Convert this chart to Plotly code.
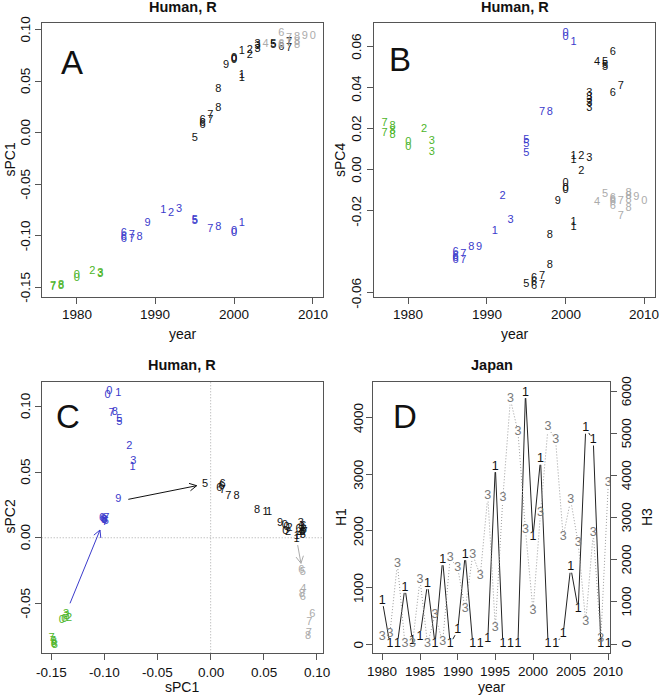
import math
import plotly.graph_objects as go

W, H = 659, 697
FONT = "Liberation Sans, Arial, sans-serif"

GREEN = "#4db52a"
BLUE = "#3b3bcc"
BLACK = "#111111"
GRAY = "#ababab"
DGRAY = "#7a7a7a"

# ---------------- data ----------------
# Panel A: sPC1 by year
A_green_years = [1977, 1977, 1978, 1978, 1980, 1980, 1982, 1983, 1983]
A_green_vals = [-0.150, -0.149, -0.1494, -0.148, -0.138, -0.141, -0.134, -0.137, -0.136]
A_blue_years = [1986, 1986, 1986, 1987, 1987, 1988, 1989, 1991, 1992, 1993, 1995, 1995, 1997, 1998, 2000, 2000, 2001]
A_blue_vals = [-0.098, -0.101, -0.103, -0.099, -0.103, -0.101, -0.088, -0.075, -0.078, -0.074, -0.085, -0.086, -0.094, -0.092, -0.096, -0.098, -0.088]
A_black_years = [1995, 1996, 1996, 1996, 1997, 1997, 1998, 1998, 1999, 2000, 2000, 2000, 2001, 2001, 2001,
                 2002, 2002, 2003, 2003, 2003, 2005, 2005, 2006, 2007, 2007]
A_black_vals = [-0.0055, 0.012, 0.009, 0.007, 0.017, 0.012, 0.024, 0.042, 0.066, 0.071, 0.072, 0.073, 0.056, 0.053, 0.0795,
                0.0805, 0.0757, 0.0864, 0.0845, 0.0815, 0.0865, 0.0855, 0.083, 0.082, 0.088]
A_gray_years = [2004, 2006, 2006, 2006, 2007, 2007, 2008, 2008, 2008, 2009, 2010]
A_gray_vals = [0.0865, 0.0968, 0.0865, 0.0850, 0.0920, 0.0870, 0.0925, 0.0880, 0.0850, 0.0940, 0.0940]

# Panel B: sPC4 by year
B_green_years = [1977, 1977, 1978, 1978, 1978, 1980, 1980, 1982, 1983, 1983]
B_green_vals = [0.0225, 0.0176, 0.021, 0.019, 0.017, 0.0136, 0.011, 0.0197, 0.014, 0.0087]
B_blue_years = [1986, 1986, 1986, 1986, 1987, 1987, 1988, 1989, 1991, 1992, 1993, 1995, 1995, 1995, 1997, 1998, 2000, 2000, 2001]
B_blue_vals = [-0.040, -0.042, -0.043, -0.044, -0.041, -0.044, -0.0378, -0.038, -0.030, -0.013, -0.0247,
               0.0143, 0.0125, 0.0082, 0.028, 0.028, 0.0665, 0.0645, 0.0624]
B_black_years = [1995, 1996, 1996, 1996, 1997, 1997, 1998, 1998, 1999, 2000, 2000, 2000, 2001, 2001, 2001, 2001,
                 2002, 2002, 2003, 2003, 2003, 2003, 2003, 2003, 2004, 2005, 2005, 2005, 2006, 2006, 2007]
B_black_vals = [-0.056, -0.053, -0.055, -0.057, -0.052, -0.0565, -0.0467, -0.0317, -0.0155, -0.0066, -0.009, -0.010,
                -0.0256, -0.028, 0.0065, 0.0045, 0.0065, -0.0005, 0.0057, 0.0374, 0.0355, 0.034, 0.0325, 0.030,
                0.0524, 0.0522, 0.051, 0.0499, 0.0573, 0.0372, 0.0405]
B_gray_years = [2004, 2005, 2006, 2006, 2006, 2006, 2007, 2007, 2008, 2008, 2008, 2008, 2009, 2010]
B_gray_vals = [-0.016, -0.012, -0.0137, -0.015, -0.016, -0.018, -0.0155, -0.0226, -0.0115, -0.013, -0.015, -0.019, -0.0133, -0.0153]

# Panel C: sPC2 vs sPC1 (label = last digit of year)
C_green_x = [-0.150, -0.149, -0.148, -0.147, -0.148, -0.1405, -0.138, -0.1335, -0.1365, -0.136]
C_green_y = [-0.077, -0.079, -0.080, -0.082, -0.081, -0.063, -0.0625, -0.0615, -0.058, -0.060]
C_green_years = [1977, 1977, 1978, 1978, 1978, 1980, 1980, 1982, 1983, 1983]
C_blue_x = [-0.1013, -0.1000, -0.0990, -0.1025, -0.0995, -0.0985, -0.1005, -0.0872, -0.0736, -0.0768, -0.0730,
            -0.0862, -0.0862, -0.0934, -0.0903, -0.0972, -0.0957, -0.0872]
C_blue_y = [0.0140, 0.0130, 0.0125, 0.0145, 0.0120, 0.0145, 0.0135, 0.0293, 0.0537, 0.0699, 0.0587,
            0.0903, 0.0877, 0.0949, 0.0957, 0.1089, 0.1114, 0.1101]
C_blue_years = [1986, 1986, 1986, 1986, 1987, 1987, 1988, 1989, 1991, 1992, 1993, 1995, 1995, 1997, 1998, 2000, 2000, 2001]
C_black_x = [-0.0053, 0.0113, 0.0104, 0.0082, 0.0113, 0.0167, 0.0245, 0.0437, 0.0519, 0.0550, 0.0654,
             0.0700, 0.0715, 0.0705, 0.0730, 0.0745, 0.0810, 0.0812, 0.0850, 0.0860, 0.0855, 0.0865,
             0.0870, 0.0880, 0.0875, 0.0885, 0.0840, 0.0830]
C_black_y = [0.0407, 0.0410, 0.0390, 0.0376, 0.0364, 0.0313, 0.0313, 0.0211, 0.0198, 0.0193, 0.0109,
             0.0095, 0.0080, 0.0050, 0.0040, 0.0070, -0.0010, 0.0010, 0.0110, 0.0080, 0.0060, 0.0040,
             0.0020, 0.0060, 0.0090, 0.0045, 0.0030, 0.0065]
C_black_years = [1995, 1996, 1996, 1996, 1997, 1997, 1998, 1998, 2001, 2001, 1999,
                 2000, 2000, 2000, 2002, 2002, 2001, 2001, 2003, 2003, 2003, 2003,
                 2005, 2005, 2006, 2007, 2004, 2006]
C_gray_x = [0.0855, 0.0870, 0.0875, 0.0860, 0.0870, 0.0960, 0.0930, 0.0925, 0.0920]
C_gray_y = [-0.0245, -0.0265, -0.0390, -0.0430, -0.0450, -0.0585, -0.0645, -0.0730, -0.0750]
C_gray_years = [2006, 2005, 2004, 2008, 2006, 2006, 2007, 2007, 2008]

ARROW_X0 = [-0.1327, -0.0777, 0.0821]
ARROW_Y0 = [-0.0500, 0.0293, -0.0056]
ARROW_X1 = [-0.1044, -0.0132, 0.0852]
ARROW_Y1 = [0.0059, 0.0397, -0.0195]
ARROW_COLORS = [BLUE, BLACK, GRAY]

# Panel D: Japan, H1 and H3 counts
D_years = list(range(1980, 2011))
D_H1 = [765, 0, 0, 1000, 50, 134, 1065, 0, 1489, 0, 241, 1578, 0, 0, 88, 3133, 0, 0, 0, 4440,
        1896, 3263, 0, 0, 171, 1355, 618, 3811, 3604, 0, 0]
D_H3 = [167, 250, 1912, 0, 0, 1531, 0, 698, 40, 2047, 1809, 833, 2126, 1626, 3518, 373, 3479, 5819,
        5049, 2711, 792, 3123, 5153, 4851, 2552, 3424, 2395, 530, 2647, 112, 3836]

# tick labels
YEAR_TICKS_AB = [1980, 1990, 2000, 2010]
A_YTICKS = [-0.15, -0.10, -0.05, 0.00, 0.05, 0.10]
B_YTICKS = [-0.06, -0.02, 0.00, 0.02, 0.04, 0.06]
C_XTICKS = [-0.15, -0.10, -0.05, 0.00, 0.05, 0.10]
C_YTICKS = [-0.05, 0.00, 0.05, 0.10]
D_XTICKS = [1980, 1985, 1990, 1995, 2000, 2005, 2010]
D_H1TICKS = [0, 1000, 2000, 3000, 4000]
D_H3TICKS = [0, 1000, 2000, 3000, 4000, 5000, 6000]

# ---------------- geometry ----------------
BOX = {
    "A": ((42.0, 323.0), (23.3, 296.5)),
    "B": ((374.3, 655.0), (23.3, 296.5)),
    "C": ((41.7, 322.7), (381.7, 653.3)),
    "D": ((373.3, 610.0), (381.7, 653.3)),
}
XR = {"A": [1975.59, 2011.31], "B": [1975.68, 2011.36], "C": [-0.1594, 0.1057], "D": [1978.8, 2010.22]}
YR = {"A": [-0.159, 0.1065], "B": [-0.0618, 0.0714], "C": [-0.0881, 0.119], "D": [-164, 4634], "D2": [-221, 6238]}


def xdom(p):
    (x0, x1), _ = BOX[p]
    return [x0 / W, x1 / W]


def ydom(p):
    _, (y0, y1) = BOX[p]
    return [1 - y1 / H, 1 - y0 / H]


def to_px(p, x, y, yk=None):
    (bx0, bx1), (by0, by1) = BOX[p]
    xr = XR[p]
    yr = YR[yk or p]
    return (bx0 + (x - xr[0]) / (xr[1] - xr[0]) * (bx1 - bx0),
            by1 - (y - yr[0]) / (yr[1] - yr[0]) * (by1 - by0))


def from_px(p, px, py, yk=None):
    (bx0, bx1), (by0, by1) = BOX[p]
    xr = XR[p]
    yr = YR[yk or p]
    return (xr[0] + (px - bx0) / (bx1 - bx0) * (xr[1] - xr[0]),
            yr[0] + (by1 - py) / (by1 - by0) * (yr[1] - yr[0]))


def fmt(v, d=2):
    s = f"{v:.{d}f}"
    if s.startswith("-") and float(s) == 0:
        s = s[1:]
    return s


fig = go.Figure()


def digits(xs, ys, years, color, xa, ya, size=11):
    fig.add_trace(go.Scatter(
        x=xs, y=ys, mode="text", text=[str(y % 10) for y in years],
        textposition="middle center",
        textfont=dict(family=FONT, size=size, color=color),
        xaxis=xa, yaxis=ya, hoverinfo="skip", showlegend=False))


# Panel A
for yrs, vals, col in [(A_green_years, A_green_vals, GREEN), (A_blue_years, A_blue_vals, BLUE),
                       (A_black_years, A_black_vals, BLACK), (A_gray_years, A_gray_vals, GRAY)]:
    digits(yrs, vals, yrs, col, "x", "y")

# Panel B
for yrs, vals, col in [(B_green_years, B_green_vals, GREEN), (B_blue_years, B_blue_vals, BLUE),
                       (B_black_years, B_black_vals, BLACK), (B_gray_years, B_gray_vals, GRAY)]:
    digits(yrs, vals, yrs, col, "x2", "y2")

# Panel C
for xs, ys, yrs, col in [(C_green_x, C_green_y, C_green_years, GREEN), (C_blue_x, C_blue_y, C_blue_years, BLUE),
                         (C_black_x, C_black_y, C_black_years, BLACK), (C_gray_x, C_gray_y, C_gray_years, GRAY)]:
    digits(xs, ys, yrs, col, "x3", "y3")

# arrows in C, open V heads like R's arrows()
HEAD_LEN = 8.0
HEAD_ANG = math.radians(28)
for x0, y0, x1, y1, col in zip(ARROW_X0, ARROW_Y0, ARROW_X1, ARROW_Y1, ARROW_COLORS):
    p0 = to_px("C", x0, y0)
    p1 = to_px("C", x1, y1)
    ang = math.atan2(p1[1] - p0[1], p1[0] - p0[0])
    hx, hy = [], []
    for s in (1, -1):
        a = ang + math.pi + s * HEAD_ANG
        hp = (p1[0] + HEAD_LEN * math.cos(a), p1[1] + HEAD_LEN * math.sin(a))
        d = from_px("C", *hp)
        hx.append(d[0])
        hy.append(d[1])
    fig.add_trace(go.Scatter(
        x=[x0, x1, None, hx[0], x1, hx[1]], y=[y0, y1, None, hy[0], y1, hy[1]],
        mode="lines", line=dict(color=col, width=1), xaxis="x3", yaxis="y3",
        hoverinfo="skip", showlegend=False))


# Panel D: type="b" style lines with gaps around the labels
def gapped(p, xs, ys, yk, gap=5.5):
    gx, gy = [], []
    for i in range(len(xs) - 1):
        a = to_px(p, xs[i], ys[i], yk)
        b = to_px(p, xs[i + 1], ys[i + 1], yk)
        dx, dy = b[0] - a[0], b[1] - a[1]
        d = math.hypot(dx, dy)
        if d <= 2 * gap:
            continue
        s = (a[0] + dx * gap / d, a[1] + dy * gap / d)
        e = (b[0] - dx * gap / d, b[1] - dy * gap / d)
        sd = from_px(p, *s, yk)
        ed = from_px(p, *e, yk)
        gx += [sd[0], ed[0], None]
        gy += [sd[1], ed[1], None]
    return gx, gy


gx, gy = gapped("D", D_years, D_H3, "D2")
fig.add_trace(go.Scatter(x=gx, y=gy, mode="lines", line=dict(color="#9c9c9c", width=1, dash="1px,2px"),
                         xaxis="x4", yaxis="y5", hoverinfo="skip", showlegend=False))
fig.add_trace(go.Scatter(x=D_years, y=D_H3, mode="text", text=["3"] * len(D_years),
                         textfont=dict(family=FONT, size=12.5, color=DGRAY),
                         xaxis="x4", yaxis="y5", hoverinfo="skip", showlegend=False))
gx, gy = gapped("D", D_years, D_H1, "D")
fig.add_trace(go.Scatter(x=gx, y=gy, mode="lines", line=dict(color="#222222", width=1),
                         xaxis="x4", yaxis="y4", hoverinfo="skip", showlegend=False))
fig.add_trace(go.Scatter(x=D_years, y=D_H1, mode="text", text=["1"] * len(D_years),
                         textfont=dict(family=FONT, size=12.5, color=BLACK),
                         xaxis="x4", yaxis="y4", hoverinfo="skip", showlegend=False))

# ---------------- axes ----------------
TICKFONT = dict(family=FONT, size=13.5, color="#111111")
AX = dict(showline=True, linecolor="#555555", linewidth=1, mirror=True, ticks="outside", ticklen=6,
          tickcolor="#555555", showgrid=False, zeroline=False, showticklabels=False)


def xa(p, ticks, anchor):
    return dict(AX, domain=xdom(p), range=XR[p], tickmode="array", tickvals=ticks, anchor=anchor)


def ya(p, ticks, anchor, yk=None, **kw):
    d = dict(AX, domain=ydom(p), range=YR[yk or p], tickmode="array", tickvals=ticks, anchor=anchor)
    d.update(kw)
    return d


fig.update_layout(
    width=W, height=H, margin=dict(l=0, r=0, t=0, b=0),
    paper_bgcolor="white", plot_bgcolor="white", showlegend=False,
    xaxis=xa("A", YEAR_TICKS_AB, "y"),
    yaxis=ya("A", A_YTICKS, "x"),
    xaxis2=xa("B", YEAR_TICKS_AB, "y2"),
    yaxis2=ya("B", B_YTICKS, "x2"),
    xaxis3=xa("C", C_XTICKS, "y3"),
    yaxis3=ya("C", C_YTICKS, "x3"),
    xaxis4=xa("D", D_XTICKS, "y4"),
    yaxis4=ya("D", D_H1TICKS, "x4"),
    yaxis5=ya("D", D_H3TICKS, "x4", yk="D2", overlaying="y4", side="right", mirror=False),
)

# reference lines in C
for shp in [dict(x0=0, x1=0, y0=0, y1=1, xref="x3", yref="y3 domain"),
            dict(x0=0, x1=1, y0=0, y1=0, xref="x3 domain", yref="y3")]:
    fig.add_shape(type="line", line=dict(color="#a8a8a8", width=1, dash="1px,2px"), layer="below", **shp)


def ann(text, px, py, size=14, bold=False, angle=0, color="#111111"):
    fig.add_annotation(x=px / W, y=1 - py / H, xref="paper", yref="paper", showarrow=False,
                       text=f"<b>{text}</b>" if bold else text, textangle=angle,
                       font=dict(family=FONT, size=size, color=color), xanchor="center", yanchor="middle")


# tick labels as text placed by the axes' own scales
def xticklabels(xref, ticks, labels, py):
    for v, t in zip(ticks, labels):
        fig.add_annotation(x=v, y=1 - py / H, xref=xref, yref="paper", showarrow=False, text=t,
                           font=TICKFONT, xanchor="center", yanchor="middle")


def yticklabels(yref, ticks, labels, px):
    for v, t in zip(ticks, labels):
        fig.add_annotation(x=px / W, y=v, xref="paper", yref=yref, showarrow=False, text=t, textangle=-90,
                           font=TICKFONT, xanchor="center", yanchor="middle")


xticklabels("x", YEAR_TICKS_AB, [str(v) for v in YEAR_TICKS_AB], 314.5)
xticklabels("x2", YEAR_TICKS_AB, [str(v) for v in YEAR_TICKS_AB], 314.5)
xticklabels("x3", C_XTICKS, [fmt(v) for v in C_XTICKS], 672.0)
xticklabels("x4", D_XTICKS, [str(v) for v in D_XTICKS], 671.0)
yticklabels("y", A_YTICKS, [fmt(v) for v in A_YTICKS], 25.5)
yticklabels("y2", B_YTICKS, [fmt(v) for v in B_YTICKS], 357.0)
yticklabels("y3", C_YTICKS, [fmt(v) for v in C_YTICKS], 25.5)
yticklabels("y4", D_H1TICKS, [str(v) for v in D_H1TICKS], 358.5)
yticklabels("y5", D_H3TICKS, [str(v) for v in D_H3TICKS], 626.5)

# titles
ann("Human, R", 182.5, 7.5, size=14.5, bold=True)
ann("Human, R", 514.7, 7.5, size=14.5, bold=True)
ann("Human, R", 182.2, 365, size=14.5, bold=True)
ann("Japan", 491.7, 365, size=14.5, bold=True)
# axis labels
ann("year", 182.5, 334, size=14)
ann("year", 514.7, 334, size=14)
ann("sPC1", 9.5, 160, size=14, angle=-90)
ann("sPC4", 340, 160, size=14, angle=-90)
ann("sPC2", 9.5, 517, size=14, angle=-90)
ann("sPC1", 182.2, 687, size=14)
ann("H1", 341, 517, size=14, angle=-90)
ann("H3", 647, 517, size=14, angle=-90)
ann("year", 491.7, 687, size=14)
# panel letters
ann("A", 72, 62, size=33)
ann("B", 400, 59, size=33)
ann("C", 68, 416, size=33)
ann("D", 405, 416, size=33)

# the page body has a default 8px margin; remove it so the figure fills the window exactly
fig.write_html("out.html", config={"displayModeBar": False},
               post_script="document.body.style.margin='0';document.body.style.overflow='hidden';")
